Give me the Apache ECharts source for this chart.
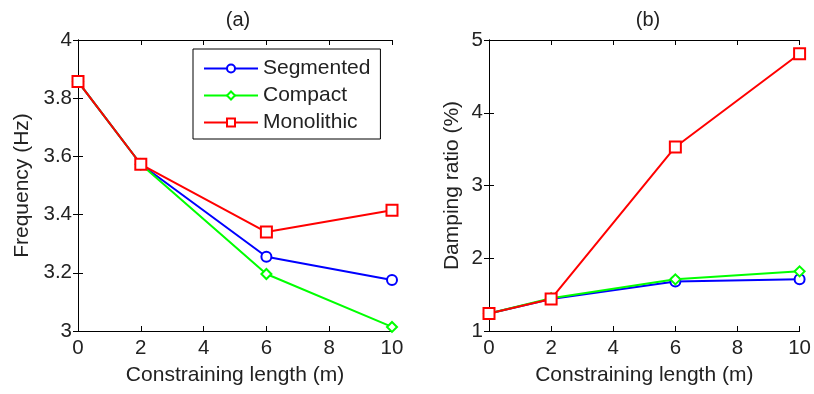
<!DOCTYPE html>
<html>
<head>
<meta charset="utf-8">
<script src="https://cdn.jsdelivr.net/npm/echarts@6/dist/echarts.min.js"></script>
<style>
  html, body { margin: 0; padding: 0; background: #fff; }
  #chart { width: 814px; height: 394px; }
</style>
</head>
<body>
<div id="chart"></div>
<script>
// Constraining length (m)
const lengths = [0, 2, 6, 10];

// (a) Frequency (Hz)
const freqSegmented  = [3.857, 3.573, 3.255, 3.175];
const freqCompact    = [3.857, 3.573, 3.196, 3.014];
const freqMonolithic = [3.857, 3.573, 3.340, 3.415];

// (b) Damping ratio (%)
const dampSegmented  = [1.24, 1.44, 1.68, 1.71];
const dampCompact    = [1.24, 1.45, 1.71, 1.82];
const dampMonolithic = [1.24, 1.44, 3.53, 4.81];

const seriesNames = ['Segmented', 'Compact', 'Monolithic'];
const colors = ['#0000ff', '#00ff00', '#ff0000'];
const symbols = ['emptyCircle', 'emptyDiamond', 'emptyRect'];
const symbolSizes = [10, 10, 11];

const FONT = 'Liberation Sans, Arial, sans-serif';
const textColor = '#222';

function pairs(xs, ys) { return xs.map((x, i) => [x, ys[i]]); }

function lineSeries(idx, data, gi) {
  return {
    name: seriesNames[idx],
    type: 'line',
    xAxisIndex: gi * 2,
    yAxisIndex: gi * 2,
    data: pairs(lengths, data),
    symbol: symbols[idx],
    symbolSize: symbolSizes[idx],
    color: colors[idx],
    lineStyle: { width: 2, color: colors[idx] },
    itemStyle: { color: colors[idx], borderColor: colors[idx], borderWidth: 2 },
    animation: false,
    z: 2 + idx
  };
}

const grids = [
  { left: 78, top: 40, width: 314, height: 291 },
  { left: 489, top: 40, width: 313, height: 291 }
];

const axisLineStyle = { show: true, lineStyle: { color: '#000', width: 1 } };
const tickStyle = { show: true, inside: true, length: 5, lineStyle: { color: '#000' } };
const labelStyle = { color: textColor, fontFamily: FONT, fontSize: 20.5 };
const nameStyle = { color: textColor, fontFamily: FONT, fontSize: 21 };

function xAxes(gi) {
  return [
    {
      gridIndex: gi, type: 'value', min: 0, max: 10, interval: 2,
      axisLine: axisLineStyle, axisTick: tickStyle,
      axisLabel: Object.assign({ margin: 7 }, labelStyle),
      splitLine: { show: false },
      name: 'Constraining length (m)', nameLocation: 'middle', nameGap: 34,
      nameTextStyle: nameStyle
    },
    {
      gridIndex: gi, type: 'value', min: 0, max: 10, interval: 2, position: 'top',
      axisLine: axisLineStyle, axisTick: tickStyle,
      axisLabel: { show: false }, splitLine: { show: false }
    }
  ];
}

function yAxes(gi, min, max, interval, name, nameGap) {
  return [
    {
      gridIndex: gi, type: 'value', min: min, max: max, interval: interval,
      axisLine: axisLineStyle, axisTick: tickStyle,
      axisLabel: Object.assign({ margin: 6, formatter: v => String(+v.toFixed(1)) }, labelStyle),
      splitLine: { show: false },
      name: name, nameLocation: 'middle', nameGap: nameGap, nameRotate: 90,
      nameTextStyle: nameStyle
    },
    {
      gridIndex: gi, type: 'value', min: min, max: max, interval: interval, position: 'right',
      axisLine: axisLineStyle, axisTick: tickStyle,
      axisLabel: { show: false }, splitLine: { show: false }
    }
  ];
}

const chart = echarts.init(document.getElementById('chart'), null, { renderer: 'canvas' });

chart.setOption({
  backgroundColor: '#fff',
  animation: false,
  title: [
    { text: '(a)', left: 233, top: 5, textAlign: 'center',
      textStyle: { fontFamily: FONT, fontSize: 20, fontWeight: 'normal', color: textColor } },
    { text: '(b)', left: 643, top: 5, textAlign: 'center',
      textStyle: { fontFamily: FONT, fontSize: 20, fontWeight: 'normal', color: textColor } }
  ],
  legend: {
    data: seriesNames,
    orient: 'vertical',
    left: 193, top: 49,
    width: 189,
    padding: [9, 10, 6, 10],
    itemGap: 6,
    itemWidth: 54, itemHeight: 10,
    backgroundColor: '#fff',
    borderColor: '#000', borderWidth: 1,
    textStyle: { fontFamily: FONT, fontSize: 21, color: textColor, padding: [0, 0, 0, 0] }
  },
  grid: grids,
  xAxis: xAxes(0).concat(xAxes(1)),
  yAxis: yAxes(0, 3, 4, 0.2, 'Frequency (Hz)', 45).concat(yAxes(1, 1, 5, 1, 'Damping ratio (%)', 26)),
  series: [
    lineSeries(0, freqSegmented, 0),
    lineSeries(1, freqCompact, 0),
    lineSeries(2, freqMonolithic, 0),
    lineSeries(0, dampSegmented, 1),
    lineSeries(1, dampCompact, 1),
    lineSeries(2, dampMonolithic, 1)
  ]
});
</script>
</body>
</html>
